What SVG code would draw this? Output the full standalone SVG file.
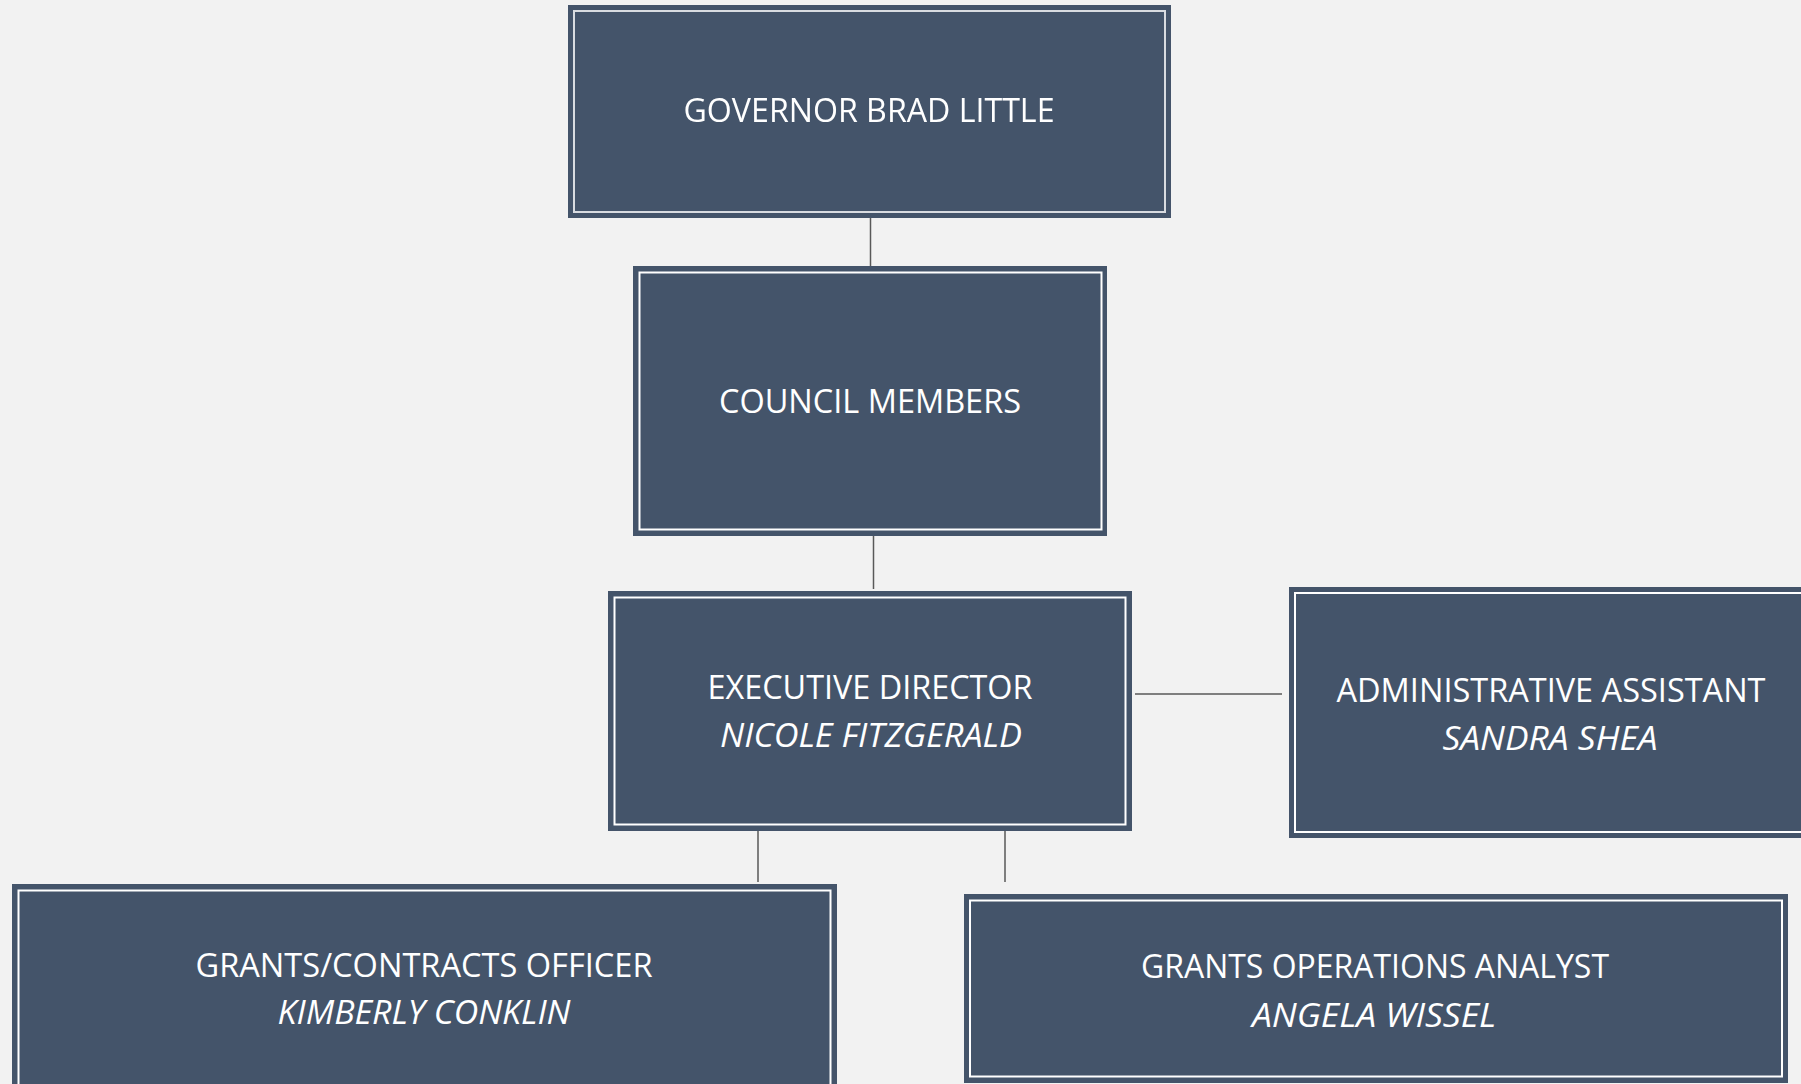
<svg xmlns="http://www.w3.org/2000/svg" width="1801" height="1084" viewBox="0 0 1801 1084">
  <defs>
    <style>
      .box { fill: #44546A; }
      .rule { fill: none; stroke: #FFFFFF; stroke-width: 2; }
      .soft { stroke: #D9DCE1; }
      .link { stroke: #595959; stroke-width: 1.5; fill: none; }
      .title { font-family: "Open Sans", "Noto Sans", "Liberation Sans", sans-serif; font-size: 32px; fill: #FFFFFF; text-anchor: middle; }
      .name { font-style: italic; }
    </style>
    <filter id="haze" x="-5%" y="-5%" width="110%" height="110%">
      <feGaussianBlur stdDeviation="0.45"/>
    </filter>
  </defs>

  <rect x="0" y="0" width="1801" height="1084" fill="#F2F2F2"/>

  <!-- reporting lines -->
  <g id="connectors">
    <path class="link" d="M870.5 218 V266"/>
    <path class="link" d="M873.5 536 V589"/>
    <path class="link" d="M1135 694 H1282"/>
    <path class="link" d="M758 831 V882"/>
    <path class="link" d="M1005 831 V882"/>
  </g>

  <g id="governor">
    <rect class="box" x="568" y="5" width="603" height="213"/>
    <g filter="url(#haze)">
      <rect class="rule soft" x="574" y="11" width="591" height="201"/>
      <text class="title" x="869" y="122" textLength="371" lengthAdjust="spacingAndGlyphs">GOVERNOR BRAD LITTLE</text>
    </g>
  </g>

  <g id="council">
    <rect class="box" x="633" y="266" width="474" height="270"/>
    <rect class="rule" x="639.5" y="272.5" width="462" height="257"/>
    <text class="title" x="870" y="413" textLength="302" lengthAdjust="spacingAndGlyphs">COUNCIL MEMBERS</text>
  </g>

  <g id="executive-director">
    <rect class="box" x="608" y="591" width="524" height="240"/>
    <rect class="rule" x="614.5" y="597.5" width="511" height="227"/>
    <text class="title" x="870" y="699" textLength="325" lengthAdjust="spacingAndGlyphs">EXECUTIVE DIRECTOR</text>
    <text class="title name" x="871" y="747" textLength="302" lengthAdjust="spacingAndGlyphs">NICOLE FITZGERALD</text>
  </g>

  <g id="administrative-assistant">
    <rect class="box" x="1289" y="587" width="530" height="251"/>
    <rect class="rule" x="1295" y="593" width="518" height="239"/>
    <text class="title" x="1551" y="702" textLength="429" lengthAdjust="spacingAndGlyphs">ADMINISTRATIVE ASSISTANT</text>
    <text class="title name" x="1550" y="750" textLength="215" lengthAdjust="spacingAndGlyphs">SANDRA SHEA</text>
  </g>

  <g id="grants-contracts-officer">
    <rect class="box" x="12" y="884" width="825" height="230"/>
    <rect class="rule" x="18.5" y="890.5" width="812" height="220"/>
    <text class="title" x="424" y="977" textLength="457" lengthAdjust="spacingAndGlyphs">GRANTS/CONTRACTS OFFICER</text>
    <text class="title name" x="424" y="1024" textLength="293" lengthAdjust="spacingAndGlyphs">KIMBERLY CONKLIN</text>
  </g>

  <g id="grants-operations-analyst">
    <rect class="box" x="964" y="894" width="824" height="189"/>
    <rect class="rule" x="970" y="900.5" width="812" height="176"/>
    <text class="title" x="1375" y="978" textLength="468" lengthAdjust="spacingAndGlyphs">GRANTS OPERATIONS ANALYST</text>
    <text class="title name" x="1374" y="1027" textLength="244" lengthAdjust="spacingAndGlyphs">ANGELA WISSEL</text>
  </g>
</svg>
